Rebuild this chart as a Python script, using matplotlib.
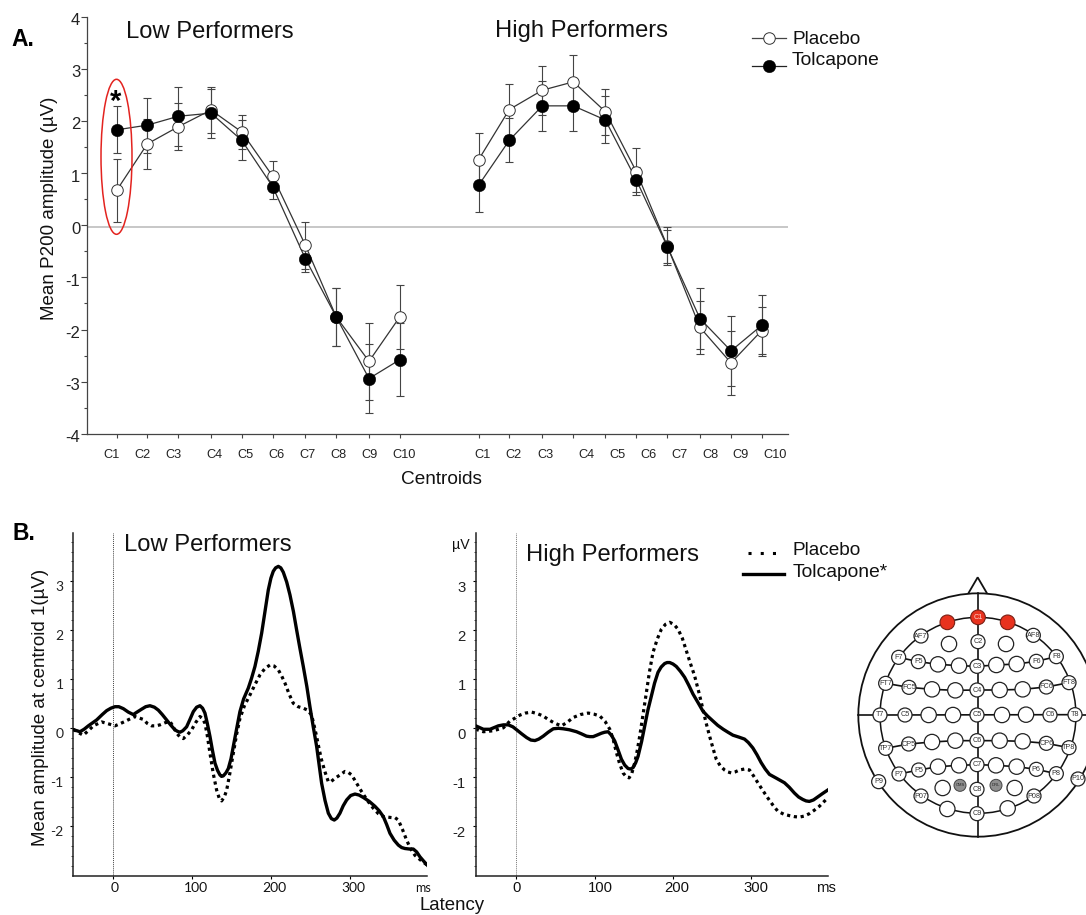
import matplotlib
matplotlib.use("Agg")
import matplotlib.pyplot as plt
from matplotlib.patches import Circle, Ellipse, Polygon
from matplotlib.transforms import ScaledTranslation

plt.rcParams['font.family'] = ['Liberation Sans', 'DejaVu Sans']

W, H = 1086, 915

# ---------- Panel A data ----------
CENTROIDS = ["C1", "C2", "C3", "C4", "C5", "C6", "C7", "C8", "C9", "C10"]
low_placebo = [0.67, 1.56, 1.89, 2.21, 1.79, 0.94, -0.38, -1.76, -2.61, -1.76]
low_placebo_err = [0.61, 0.48, 0.45, 0.45, 0.32, 0.29, 0.45, 0.56, 0.74, 0.61]
low_tolcapone = [1.83, 1.92, 2.09, 2.15, 1.63, 0.74, -0.64, -1.76, -2.94, -2.58]
low_tolcapone_err = [0.45, 0.53, 0.57, 0.47, 0.38, 0.24, 0.26, 0.56, 0.66, 0.70]
high_placebo = [1.26, 2.22, 2.59, 2.75, 2.18, 1.03, -0.40, -1.96, -2.64, -2.02]
high_placebo_err = [0.51, 0.48, 0.47, 0.51, 0.44, 0.45, 0.37, 0.51, 0.61, 0.45]
high_tolcapone = [0.77, 1.63, 2.29, 2.29, 2.02, 0.87, -0.41, -1.79, -2.41, -1.92]
high_tolcapone_err = [0.51, 0.42, 0.48, 0.48, 0.45, 0.24, 0.31, 0.58, 0.67, 0.58]

# category positions on the page-wide x scale of panel A
x_low = [116.7, 147.3, 178.3, 211, 241.7, 272.7, 305.3, 336.3, 369, 399.7]
x_high = [478.7, 509.3, 542.3, 573.3, 605.3, 636.3, 667.3, 700, 731, 761.7]
xlab_low = [111, 142.7, 173.7, 214.3, 245.7, 276, 307, 338.7, 369.3, 404]
xlab_high = [482.7, 514, 545, 586, 617, 648, 679, 710, 740.7, 775]

# ---------- Panel B data ----------
bl_sol_t = [-50.6, -46, -42.2, -37, -31.6, -21.1, -14, -8.4, -3, 2.1, 7, 12.7, 19, 25.3, 30, 35.9, 41, 46.4, 52, 57,
            62, 67.5, 73, 78, 81, 84.4, 88, 92.8, 97, 101.3, 105.5, 109.7, 113, 116, 119, 122.4, 125.5, 128.7,
            132, 135, 137, 139.2, 142.5, 145.6, 149, 151.9, 156, 160.3, 165, 170.9, 175, 179.3, 183.5, 187.8,
            192, 196.2, 199.5, 202.5, 205.5, 208.9, 212, 215.2, 219.5, 223.6, 228, 232, 236, 240.5, 245, 248.9,
            253, 257.4, 260.5, 263.7, 268, 272.2, 276, 279.7, 283, 286.9, 291, 295.4, 300.5, 305.9, 311, 316.5,
            324, 331.2, 336.5, 341.8, 346, 350.2, 355.5, 360.8, 365, 369.2, 374.5, 379.7, 384, 388.2, 393, 397.5]
bl_sol_v = [-.03, -.05, -.07, -.02, .05, .17, .28, .36, .41, .44, .44, .40, .33, .28, .33, .39, .44, .46, .43, .37,
            .28, .17, .06, -.03, -.06, -.08, -.05, .03, .18, .34, .43, .46, .41, .31, .10, -.17, -.45, -.71,
            -.86, -.95, -.98, -.97, -.91, -.82, -.62, -.37, -.02, .34, .60, .82, 1.02, 1.26, 1.57, 1.94,
            2.38, 2.82, 3.06, 3.20, 3.27, 3.30, 3.27, 3.18, 2.98, 2.72, 2.38, 2.01, 1.65, 1.26, .85, .44,
            .04, -.37, -.74, -1.12, -1.47, -1.73, -1.84, -1.87, -1.83, -1.73, -1.58, -1.46, -1.37, -1.34, -1.36, -1.41,
            -1.49, -1.59, -1.68, -1.80, -1.96, -2.14, -2.28, -2.38, -2.43, -2.45, -2.46, -2.46, -2.52, -2.62, -2.71, -2.79]
bl_dot_t = [-50.6, -44, -38, -31, -25.3, -14.8, -6, 2.1, 8, 14.8, 21, 27.4, 38, 43, 48.5, 54, 59.1, 65, 71.7, 76, 80.2,
            84, 88.6, 94, 99.2, 104, 109.7, 113, 116, 119, 122.4, 126.5, 130.8, 134, 137.1, 140.5, 143.5, 147.5, 151.9,
            156, 160.3, 166, 173, 179, 185.7, 192, 198.3, 203.5, 208.9, 213, 217.3, 222.5, 227.8, 234, 240.5, 246, 251,
            254, 257.4, 260.5, 263.7, 268, 272.2, 276, 280.6, 287, 293.2, 297.5, 301.7, 308, 314.3, 322, 329.1, 335.5, 341.8,
            347, 352.3, 356.5, 360.8, 366, 371.3, 376.5, 381.9, 390, 397.5]
bl_dot_v = [-.02, -.09, -.14, -.04, .05, .13, .09, .05, .09, .14, .19, .24, .18, .10, .05, .05, .07, .11, .14, .03, -.10,
            -.17, -.21, -.13, -.03, .11, .24, .20, .10, -.15, -.51, -.92, -1.26, -1.42, -1.48, -1.40, -1.26, -.92, -.51,
            -.13, .20, .46, .68, .88, 1.09, 1.22, 1.29, 1.27, 1.19, 1.07, .92, .70, .51, .44, .41, .37, .27,
            .07, -.17, -.42, -.65, -.89, -1.09, -1.08, -1.02, -.95, -.88, -.90, -.95, -1.12, -1.29, -1.48, -1.63, -1.74, -1.80,
            -1.81, -1.82, -1.82, -1.87, -2.06, -2.28, -2.46, -2.59, -2.70, -2.79]
br_sol_t = [-51.3, -41.5, -33.1, -22.5, -16, -9.7, -4, .8, 7, 13.6, 19, 24.2, 29, 34.7, 41, 47.5, 54, 60.2, 68, 77.1,
            83, 89.8, 94, 98.3, 103, 108.9, 113, 117.4, 121.5, 125.8, 130, 134.3, 138.5, 142.8, 146, 149.2, 152.5, 155.5,
            160, 164, 168, 172.5, 176.5, 180.9, 185, 189.4, 192.5, 195.8, 200, 204.2, 209.5, 214.8, 220, 225.4, 232, 238.1,
            244, 250.8, 257, 264, 270, 276.3, 284, 291.1, 296, 301.7, 307, 312.3, 317.5, 322.9, 332, 342, 348, 354.7,
            360, 365.3, 369.5, 373.7, 379, 384.3, 390.5, 397]
br_sol_v = [.05, -.02, -.02, .05, .07, .07, .03, -.03, -.11, -.19, -.24, -.25, -.22, -.16, -.08, -.01, .00, -.01, -.03, -.07,
            -.11, -.16, -.17, -.17, -.14, -.10, -.08, -.07, -.14, -.26, -.44, -.63, -.75, -.82, -.83, -.80, -.70, -.57,
            -.27, .05, .37, .66, .92, 1.14, 1.25, 1.32, 1.34, 1.34, 1.31, 1.26, 1.16, 1.04, .88, .70, .52, .35,
            .25, .15, .06, -.02, -.08, -.14, -.18, -.22, -.29, -.40, -.54, -.70, -.83, -.94, -1.02, -1.11, -1.20, -1.32,
            -1.40, -1.45, -1.48, -1.49, -1.46, -1.40, -1.33, -1.26]
br_dot_t = [-51.3, -41.5, -28.8, -16.1, -7.6, -1, 5.1, 12, 19.9, 27, 34.7, 41, 47.5, 53, 58, 65, 72.9, 82, 91.9, 99, 106.8,
            113.5, 119.5, 124, 128, 132, 136.4, 140, 144.1, 147.5, 151.3, 154.5, 157.6, 162, 166.1, 170, 174.6, 180, 185.2,
            190.5, 195.8, 201, 206.4, 212, 217, 222, 227.5, 233, 238.1, 242, 246.6, 251, 255.1, 260, 265.7, 270, 274.2,
            279, 284.7, 291, 297.5, 303, 308.1, 314.5, 320.8, 327, 333.5, 341, 348.3, 354.5, 361, 367, 373.7, 380, 386.4, 392, 397]
br_dot_v = [-.02, -.07, -.05, .01, .15, .21, .27, .31, .33, .30, .25, .18, .12, .08, .05, .12, .22, .28, .31, .29, .25,
            .14, -.02, -.24, -.50, -.72, -.91, -.98, -1.01, -.92, -.70, -.45, -.16, .30, .73, 1.15, 1.55, 1.82, 2.02,
            2.12, 2.16, 2.12, 2.02, 1.83, 1.58, 1.33, 1.07, .73, .39, .12, -.16, -.41, -.63, -.76, -.85, -.89, -.91,
            -.89, -.85, -.83, -.85, -.98, -1.11, -1.27, -1.42, -1.56, -1.69, -1.75, -1.78, -1.80, -1.81, -1.79, -1.74, -1.67, -1.59, -1.50, -1.42]

ms_ticks = [0, 100, 200, 300]
uv_ticks = [-2, -1, 0, 1, 2, 3]
uv_labels = ["-2", "-1", "0", "1", "2", "3"]

# ---------- Electrode montage (label, x, y) ----------
electrodes = [
    ("AF7", 213, 198), ("AF8", 550, 196), ("", 297, 222), ("C2", 384, 215), ("", 468, 222),
    ("F7", 146, 262), ("F5", 205, 275), ("", 264, 283), ("", 327, 287), ("C3", 381, 289),
    ("", 439, 285), ("", 500, 282), ("F6", 559, 274), ("F8", 619, 260),
    ("FT7", 107, 340), ("FC5", 177, 352), ("", 246, 358), ("", 316, 361), ("C4", 381, 360),
    ("", 449, 360), ("", 518, 358), ("FC6", 589, 351), ("FT8", 657, 338),
    ("T7", 90, 435), ("C5", 165, 435), ("", 236, 435), ("", 309, 435), ("C5", 381, 435),
    ("", 456, 435), ("", 528, 434), ("C6", 600, 435), ("T8", 675, 434),
    ("TP7", 107, 535), ("CP5", 176, 522), ("", 246, 516), ("", 316, 512), ("C6", 381, 512),
    ("", 449, 512), ("", 518, 514), ("CP6", 589, 520), ("TP8", 657, 533),
    ("P7", 147, 612), ("P5", 206, 600), ("", 264, 590), ("", 327, 586), ("C7", 381, 584),
    ("", 438, 586), ("", 500, 590), ("P6", 559, 598), ("P8", 619, 611),
    ("P9", 86, 635), ("P10", 684, 627),
    ("P07", 213, 678), ("", 278, 654), ("C8", 381, 658), ("", 494, 654), ("P08", 552, 678),
    ("", 292, 717), ("C9", 381, 731), ("", 473, 715),
]
red_electrodes = [("", 292, 157), ("C1", 384, 142), ("", 473, 157)]
gray_electrodes = [("CMS", 330, 646), ("DRL", 438, 646)]
montage_rows = [
    [(146, 262), (205, 275), (264, 283), (327, 287), (381, 289), (439, 285), (500, 282), (559, 274), (619, 260)],
    [(107, 340), (177, 352), (246, 358), (316, 361), (381, 360), (449, 360), (518, 358), (589, 351), (657, 338)],
    [(90, 435), (675, 434)],
    [(107, 535), (176, 522), (246, 516), (316, 512), (381, 512), (449, 512), (518, 514), (589, 520), (657, 533)],
    [(147, 612), (206, 600), (264, 590), (327, 586), (381, 584), (438, 586), (500, 590), (559, 598), (619, 611)],
]


def px_axes(fig, left, top, right, bottom, **kw):
    return fig.add_axes([left / W, 1 - bottom / H, (right - left) / W, (bottom - top) / H], **kw)


fig = plt.figure(figsize=(W / 100, H / 100), dpi=100, facecolor='white')

# ---------- Panel A ----------
DK = '#444444'
axA = px_axes(fig, 86.5, 16.7, 787.7, 433.8)
axA.patch.set_alpha(0)
axA.set_xlim(86.5, 787.7)
axA.set_ylim(-4, 4)
for s in ('top', 'right'):
    axA.spines[s].set_visible(False)
for s in ('left', 'bottom'):
    axA.spines[s].set_color(DK)
    axA.spines[s].set_linewidth(0.9)
axA.axhline(-0.035, color='#bdbdbd', lw=1.2, zorder=1)
axA.set_yticks(range(-4, 5))
axA.set_yticklabels(["-4", "-3", "-2", "-1", "0", "1", "2", "3", "4"], fontsize=12, color='#222222')
axA.set_yticks([v + 0.5 for v in range(-4, 4)], minor=True)
axA.tick_params(axis='y', which='major', length=4, width=0.8, color=DK, pad=0.5)
axA.tick_params(axis='y', which='minor', length=2, width=0.8, color=DK)
shift = ScaledTranslation(0, -2.5 / 100, fig.dpi_scale_trans)
for lab in axA.get_yticklabels():
    lab.set_transform(lab.get_transform() + shift)
axA.set_xticks(x_low + x_high)
axA.set_xticklabels([])
axA.tick_params(axis='x', length=3, width=0.8, color=DK)
for xs, labs in ((xlab_low, CENTROIDS), (xlab_high, CENTROIDS)):
    for x, lab in zip(xs, labs):
        axA.text(x, -4.41, lab, ha='center', va='center', fontsize=9.2, color='#222222')


def draw_perf(ax, x, pv, pe, tv, te):
    ax.errorbar(x, pv, yerr=pe, fmt='none', ecolor=DK, elinewidth=0.8, capsize=2.9, capthick=0.8, zorder=2)
    ax.errorbar(x, tv, yerr=te, fmt='none', ecolor=DK, elinewidth=0.8, capsize=2.9, capthick=0.8, zorder=2)
    ax.plot(x, pv, '-', color='#333333', lw=0.9, zorder=3)
    ax.plot(x, tv, '-', color='#333333', lw=0.9, zorder=3)
    ax.plot(x, pv, 'o', ms=8.3, mfc='white', mec='#333333', mew=0.7, zorder=4)
    ax.plot(x, tv, 'o', ms=9, mfc='black', mec='black', mew=0.3, zorder=5)


draw_perf(axA, x_low, low_placebo, low_placebo_err, low_tolcapone, low_tolcapone_err)
draw_perf(axA, x_high, high_placebo, high_placebo_err, high_tolcapone, high_tolcapone_err)


# ---------- Panel B ----------
def panel_b(left, right, zero_px, t_scale, sol_t, sol_v, dot_t, dot_v, vcolor):
    ax = px_axes(fig, left, 533, right, 875.5)
    ax.patch.set_alpha(0)
    ax.set_xlim((left - zero_px) / t_scale, (right - zero_px) / t_scale)
    ax.set_ylim(-3.0, 3.98)
    for s in ('top', 'right'):
        ax.spines[s].set_visible(False)
    for s in ('left', 'bottom'):
        ax.spines[s].set_linewidth(1.1)
        ax.spines[s].set_color('#222222')
    ax.set_xticks(ms_ticks)
    ax.set_xticklabels([])
    ax.tick_params(axis='x', length=2.5, width=0.8)
    ax.set_yticks(uv_ticks)
    ax.set_yticks([v * 0.2 for v in range(-14, 20)], minor=True)
    ax.tick_params(axis='y', which='minor', length=1.5, width=0.5)
    ax.tick_params(axis='y', which='major', length=2.5, width=0.8, pad=4.5)
    ax.axvline(0, color=vcolor, lw=0.7, ls=(0, (1, 1)), zorder=1)
    ax.plot(dot_t, dot_v, color='black', lw=2.3, ls=(0, (1, 1.15)), dash_capstyle='butt', zorder=2)
    ax.plot(sol_t, sol_v, color='black', lw=2.4, solid_joinstyle='round', zorder=3)
    return ax


axBL = panel_b(73.3, 427, 113.3, 0.79, bl_sol_t, bl_sol_v, bl_dot_t, bl_dot_v, '#444444')
axBR = panel_b(475.7, 828.3, 516, 0.785, br_sol_t, br_sol_v, br_dot_t, br_dot_v, '#777777')
axBL.set_yticklabels(uv_labels, fontsize=10, family='Lato', va='top', color='#222222')
axBR.set_yticklabels(uv_labels, fontsize=10.7, va='top', color='#222222')

# ---------- Page-coordinate overlay: text, annotation, legends ----------
ov = fig.add_axes([0, 0, 1, 1], zorder=10)
ov.set_xlim(0, W)
ov.set_ylim(H, 0)
ov.axis('off')
ov.patch.set_alpha(0)


def T(x, y, s, **kw):
    kw.setdefault('color', '#111111')
    kw.setdefault('ha', 'left')
    kw.setdefault('va', 'center')
    ov.text(x, y, s, **kw)


T(11, 39.5, "A.", fontsize=16.5, fontweight='bold', color='black')
T(12, 534, "B.", fontsize=16.5, fontweight='bold', color='black')
for x, y, s in ((126, 38.3, "Low Performers"), (495, 36.7, "High Performers"),
                (124, 551, "Low Performers"), (526, 561, "High Performers")):
    T(x, y, s, fontsize=17.1, va='baseline')
T(49.5, 208.5, "Mean P200 amplitude (µV)", fontsize=13.5, rotation=90, ha='center')
T(441.5, 479, "Centroids", fontsize=13.7, ha='center')
T(41, 707.5, "Mean amplitude at centroid 1(µV)", fontsize=13.5, rotation=90, ha='center')
T(452, 905.5, "Latency", fontsize=13.4, ha='center')

# panel B x tick labels
for x, s in zip((114.7, 196, 274, 353), ms_ticks):
    T(x, 888, str(s), fontsize=10, family='Lato', ha='center')
T(423, 888, "ms", fontsize=9, family='Lato', ha='center')
for x, s in zip((517, 600, 677, 756), ms_ticks):
    T(x, 888, str(s), fontsize=10.7, ha='center')
T(826, 888, "ms", fontsize=10.7, ha='center')
T(460.7, 545, "µV", fontsize=10.2, ha='center')

# red ellipse + star
ov.add_patch(Ellipse((116.5, 156.8), 31, 155, fill=False, ec='#e3231f', lw=1.1))
T(116, 102, "*", fontsize=21, fontweight='bold', ha='center', color='black')

# Legend A
ov.plot([751.7, 786], [38.3, 38.3], color='#444444', lw=0.9)
ov.plot([769.3], [38.3], 'o', ms=8.3, mfc='white', mec='#333333', mew=0.7)
ov.plot([751.7, 786], [65.7, 65.7], color='#222222', lw=0.9)
ov.plot([769.3], [65.7], 'o', ms=9, mfc='black', mec='black', mew=0.3)
T(792, 40, "Placebo", fontsize=13.7)
T(792, 60.7, "Tolcapone", fontsize=13.9)

# Legend B
ov.plot([748, 783], [552.7, 552.7], color='black', lw=2.2, ls=(0, (1, 3)), dash_capstyle='butt')
ov.plot([743, 784], [574, 574], color='black', lw=2.4)
T(793, 550.7, "Placebo", fontsize=13.7)
T(793, 572.7, "Tolcapone*", fontsize=13.9)

# ---------- Electrode montage ----------
hd = fig.add_axes([850 / W, 1 - 915 / H, 236 / W, 345 / H], zorder=11)
hd.set_xlim(0, 708)
hd.set_ylim(1035, 0)
hd.axis('off')
hd.patch.set_alpha(0)
hd.add_patch(Ellipse((384, 435), 718, 730, fill=False, ec='#111111', lw=1.3))
hd.add_patch(Circle((384, 436), 294, fill=False, ec='#111111', lw=1.1, zorder=1))
hd.add_patch(Polygon([(355, 70), (383, 22), (411, 70)], closed=False, fill=False, ec='#111111', lw=1.3))
hd.plot([384, 384], [70, 800], color='#111111', lw=1.2, zorder=1)
hd.plot([25, 90], [435, 435], color='#111111', lw=1.2, zorder=1)
hd.plot([675, 708], [435, 435], color='#111111', lw=1.2, zorder=1)
for row in montage_rows:
    hd.plot([p[0] for p in row], [p[1] for p in row], color='#111111', lw=1.2, zorder=1)
for lab, x, y in electrodes:
    r = 21 if lab else 23
    hd.add_patch(Circle((x, y), r, fc='white', ec='#222222', lw=0.9, zorder=2))
    if lab:
        hd.text(x, y, lab, ha='center', va='center', fontsize=5.2, color='#333333', zorder=3)
for lab, x, y in red_electrodes:
    hd.add_patch(Circle((x, y), 22, fc='#e8321e', ec='#7a2015', lw=0.8, zorder=2))
    if lab:
        hd.text(x, y, lab, ha='center', va='center', fontsize=5.2, color='#ffd0c8', zorder=3)
for lab, x, y in gray_electrodes:
    hd.add_patch(Circle((x, y), 18, fc='#8f8f8f', ec='#444444', lw=0.7, zorder=2))
    hd.text(x, y, lab, ha='center', va='center', fontsize=3, color='#222222', zorder=3)

fig.savefig("out.png", dpi=100, facecolor='white')
